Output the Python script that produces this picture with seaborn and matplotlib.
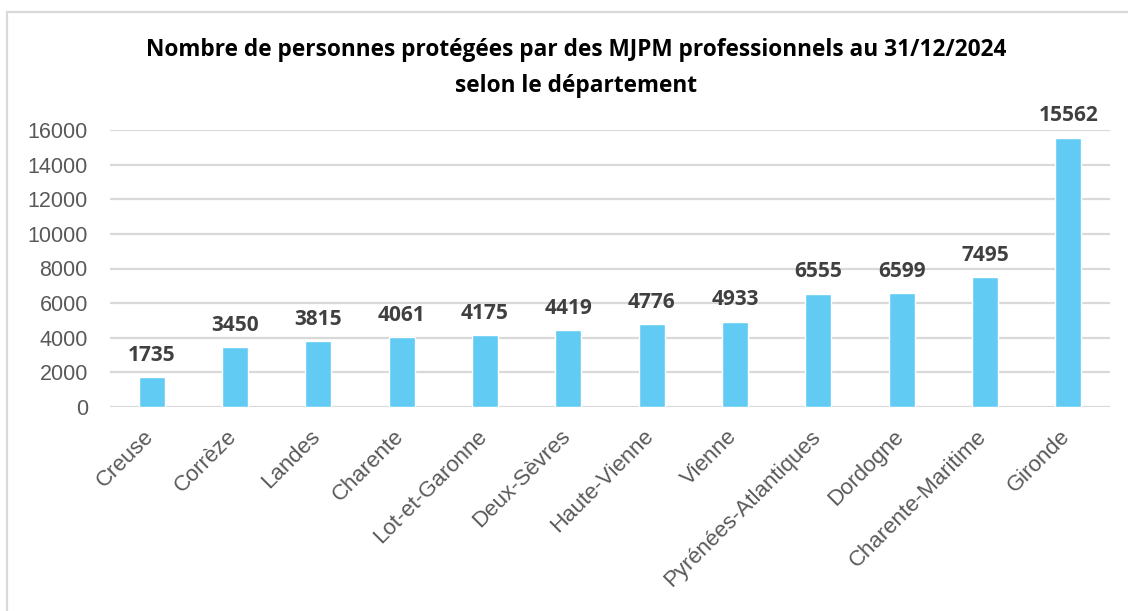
import matplotlib
matplotlib.use("Agg")
import matplotlib.pyplot as plt
import matplotlib.transforms as mtransforms
import seaborn as sns
import pandas as pd
from matplotlib.patches import Rectangle

# données
departements = ["Creuse", "Corrèze", "Landes", "Charente", "Lot-et-Garonne",
                "Deux-Sèvres", "Haute-Vienne", "Vienne", "Pyrénées-Atlantiques",
                "Dordogne", "Charente-Maritime", "Gironde"]
personnes = [1735, 3450, 3815, 4061, 4175, 4419, 4776, 4933, 6555, 6599, 7495, 15562]
y_ticks = [0, 2000, 4000, 6000, 8000, 10000, 12000, 14000, 16000]

titre = ("Nombre de personnes protégées par des MJPM professionnels au 31/12/2024\n"
         "selon le département")

sns.set_theme(style="white")
plt.rcParams['font.family'] = ['Liberation Sans', 'DejaVu Sans']

df = pd.DataFrame({"departement": departements, "personnes": personnes})

fig = plt.figure(figsize=(11.28, 6.11), dpi=100)
ax = fig.add_axes([110 / 1128, 1 - 407 / 611, 1000 / 1128, 277 / 611])

sns.barplot(data=df, x="departement", y="personnes", color="#61CBF4",
            saturation=1, width=0.31, ax=ax, zorder=3)

ax.set_ylim(0, 16000)
ax.set_yticks(y_ticks)
ax.set_yticklabels([str(v) for v in y_ticks], fontsize=15.5, color="#595959")
ax.set_xticklabels(departements, rotation=45, ha="right", va="center",
                   rotation_mode="anchor", fontsize=16, color="#595959")
ax.tick_params(axis="x", length=0, pad=19)
ax.tick_params(axis="y", length=0, pad=16)
# petit décalage des étiquettes vers la gauche, comme dans Excel
decal = mtransforms.ScaledTranslation(-1 / 72, 0, fig.dpi_scale_trans)
for lab in ax.get_xticklabels():
    lab.set_transform(lab.get_transform() + decal)
ax.set_xlabel("")
ax.set_ylabel("")
ax.grid(axis="y", color="#D9D9D9", linewidth=1.6, zorder=0)
ax.set_axisbelow(True)
for s in ax.spines.values():
    s.set_visible(False)

# étiquettes de valeurs
for bar, v in zip(ax.patches, personnes):
    ax.annotate(str(v), (bar.get_x() + bar.get_width() / 2, v),
                xytext=(0, 8), textcoords="offset points", ha="center", va="bottom",
                fontsize=15, fontweight="bold", color="#404040",
                family=["Open Sans", "DejaVu Sans"], annotation_clip=False)

fig.text(576 / 1128, 1 - 68 / 611, titre, ha="center", va="center", fontsize=16.3,
         fontweight="bold", color="black", family=["Open Sans", "DejaVu Sans"],
         linespacing=1.65)

# cadre gris du graphique
fig.patches.append(Rectangle((7 / 1128, -0.2), 2.0, 1.2 - 12 / 611,
                             transform=fig.transFigure, fill=False,
                             edgecolor="#D9D9D9", linewidth=1.6))

fig.savefig("out.png", dpi=100)
